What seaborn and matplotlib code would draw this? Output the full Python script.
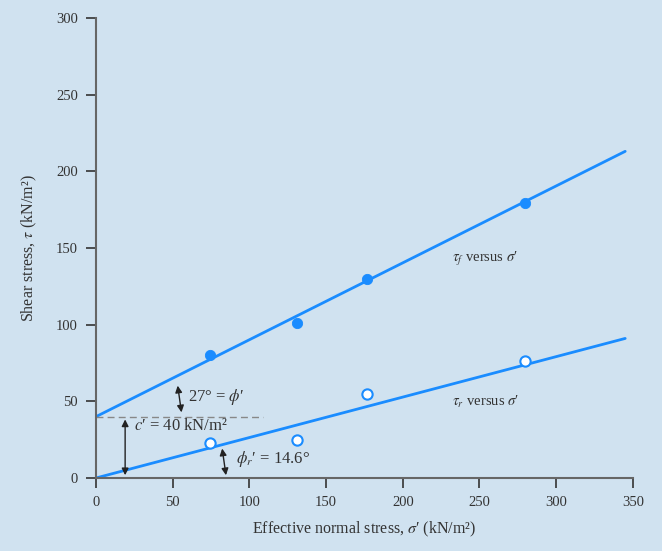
import matplotlib
matplotlib.use("Agg")
from matplotlib import pyplot as plt
import seaborn as sns
import pandas as pd

# measured points
sigma = [74, 131, 177, 280]
tau_peak = [80, 101, 130, 179]
tau_resid = [23, 25, 55, 76]

# failure envelopes (end points)
env_x = [0, 345]
env_peak = [40, 213]
env_resid = [0, 91]

x_ticks = [0, 50, 100, 150, 200, 250, 300, 350]
y_ticks = [0, 50, 100, 150, 200, 250, 300]

bg = "#d0e2f0"
blue = "#1a8cff"
ink = "#333333"

sns.set_theme(style="ticks")
plt.rcParams["font.family"] = ["Liberation Serif", "DejaVu Serif"]
plt.rcParams["mathtext.fontset"] = "stix"

fig = plt.figure(figsize=(6.62, 5.51), dpi=100, facecolor=bg)
ax = fig.add_axes([0.145, 0.1325, 0.811, 0.835])
ax.set_facecolor(bg)

pts = pd.DataFrame({"sigma": sigma, "peak": tau_peak, "resid": tau_resid})
env = pd.DataFrame({"x": env_x, "peak": env_peak, "resid": env_resid})

sns.lineplot(data=env, x="x", y="peak", color=blue, lw=2, ax=ax)
sns.lineplot(data=env, x="x", y="resid", color=blue, lw=2, ax=ax)
sns.scatterplot(data=pts, x="sigma", y="peak", color=blue, s=55, edgecolor=blue, zorder=3, ax=ax)
sns.scatterplot(data=pts, x="sigma", y="resid", color="white", s=55, edgecolor=blue, linewidth=1.5, zorder=3, ax=ax)

# cohesion marker
ax.plot([0, 109], [40, 40], ls=(0, (5, 3)), color="#888888", lw=1)
ax.annotate("", xy=(19, 0), xytext=(19, 40),
            arrowprops=dict(arrowstyle="<|-|>", color="#222222", lw=1, mutation_scale=10))
ax.text(25, 31, "$c$\u2032 = 40 kN/m\u00b2", fontsize=12, color=ink)

# angle markers
ax.annotate("", xy=(53, 62), xytext=(56, 41),
            arrowprops=dict(arrowstyle="<|-|>", color="#222222", lw=1, mutation_scale=10))
ax.text(60, 50, "27\u00b0 = $\\phi$\u2032", fontsize=12, color=ink)
ax.annotate("", xy=(82, 21), xytext=(85, 0),
            arrowprops=dict(arrowstyle="<|-|>", color="#222222", lw=1, mutation_scale=10))
ax.text(91, 10, "$\\phi_r$\u2032 = 14.6\u00b0", fontsize=12, color=ink)

ax.text(232, 141, "$\\tau_f$ versus $\\sigma$\u2032", fontsize=10.5, color=ink)
ax.text(232, 47, "$\\tau_r$ versus $\\sigma$\u2032", fontsize=10.5, color=ink)

ax.set_xlim(0, 350)
ax.set_ylim(0, 300)
ax.set_xticks(x_ticks)
ax.set_yticks(y_ticks)
ax.tick_params(labelsize=10.5, colors="#333333", length=7, width=1.2, pad=6)
for s in ["left", "bottom"]:
    ax.spines[s].set_color("#666666")
    ax.spines[s].set_linewidth(1.5)
sns.despine(ax=ax)

ax.set_xlabel("Effective normal stress, $\\sigma$\u2032 (kN/m\u00b2)", fontsize=11.5, color=ink, labelpad=8)
ax.set_ylabel("Shear stress, $\\tau$ (kN/m\u00b2)", fontsize=11.5, color=ink, labelpad=12)

fig.savefig("out.png", dpi=100, facecolor=bg)
